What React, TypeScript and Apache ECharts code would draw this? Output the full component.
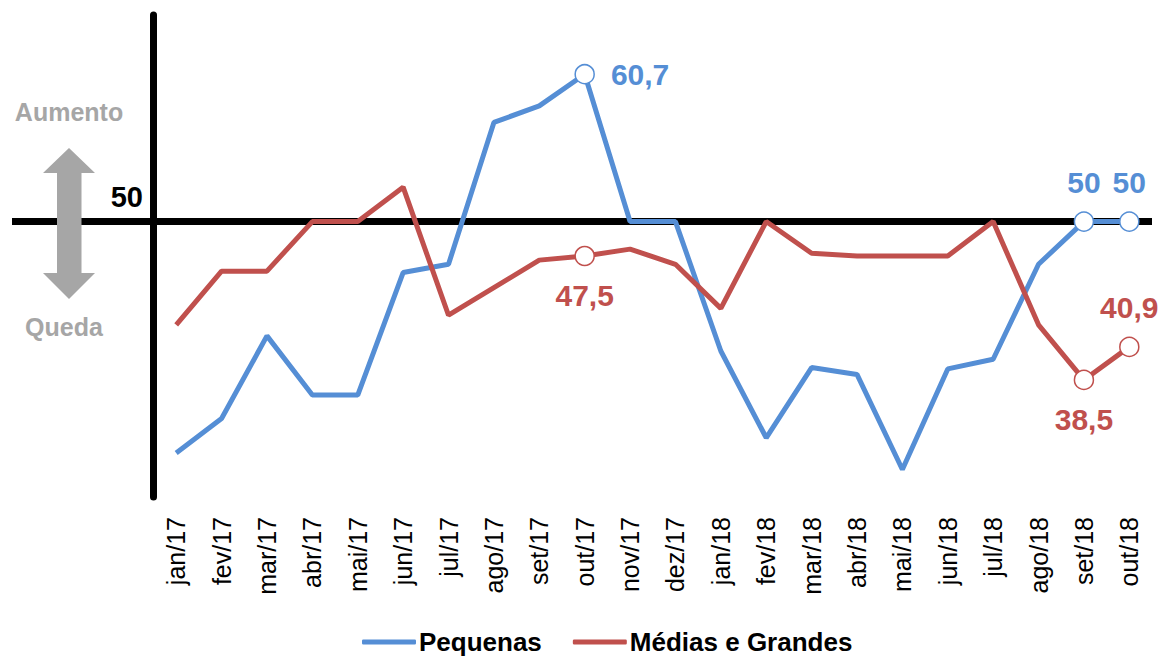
import React, { useEffect, useRef } from "react";
import * as echarts from "echarts";

const categories = [
  "jan/17", "fev/17", "mar/17", "abr/17", "mai/17", "jun/17", "jul/17", "ago/17",
  "set/17", "out/17", "nov/17", "dez/17", "jan/18", "fev/18", "mar/18", "abr/18",
  "mai/18", "jun/18", "jul/18", "ago/18", "set/18", "out/18",
];
const pequenas = [
  33.2, 35.7, 41.7, 37.4, 37.4, 46.3, 46.9, 57.2, 58.4, 60.7, 50, 50,
  40.6, 34.3, 39.4, 38.9, 32.0, 39.3, 40.0, 46.9, 50, 50,
];
const mediasGrandes = [
  42.5, 46.4, 46.4, 50, 50, 52.5, 43.2, 45.2, 47.2, 47.5, 48.0, 46.9,
  43.7, 50, 47.7, 47.5, 47.5, 47.5, 50, 42.5, 38.5, 40.9,
];
const seriesNames = ["Pequenas", "Médias e Grandes"];
const pequenasLabels: Record<number, string> = { 9: "right", 20: "top", 21: "top" };
const mediasLabels: Record<number, string> = { 9: "bottom", 20: "bottom", 21: "top" };
const referenceLevel = 50;

const BLUE = "#558ED5";
const RED = "#C0504D";
const GRAY = "#A6A6A6";
const FONT = "'Liberation Sans', Arial, sans-serif";

const fmt = (v: number) => String(v).replace(".", ",");

function buildData(values: number[], labels: Record<number, string>, color: string) {
  return values.map((v, i) => {
    const pos = labels[i];
    if (!pos) return v;
    return {
      value: v,
      symbol: "circle",
      symbolSize: 19,
      itemStyle: { color: "#fff", borderColor: color, borderWidth: 1.5 },
      label: {
        show: true,
        position: pos,
        distance: pos === "right" ? 16 : 14,
        formatter: (p: any) => fmt(p.value),
        color,
        fontSize: 30,
        fontWeight: "bold",
        fontFamily: FONT,
      },
    };
  });
}

export default function App() {
  const ref = useRef<HTMLDivElement>(null);
  useEffect(() => {
    if (!ref.current) return;
    const chart = echarts.init(ref.current, null, { renderer: "svg" });
    chart.setOption({
      animation: false,
      grid: { left: 153.5, right: 9, top: 15, bottom: 160 },
      legend: {
        left: 357,
        top: 624,
        icon: "roundRect",
        itemWidth: 54,
        itemHeight: 5,
        itemGap: 31,
        textStyle: { fontSize: 26, fontWeight: "bold", color: "#000", fontFamily: FONT, padding: [0, 0, 0, -2] },
        data: seriesNames,
      },
      xAxis: {
        type: "category",
        data: categories,
        boundaryGap: true,
        axisLine: { show: false },
        axisTick: { show: false },
        axisLabel: {
          rotate: 90,
          margin: 20,
          fontSize: 25,
          color: "#000",
          fontFamily: FONT,
          interval: 0,
        },
      },
      yAxis: {
        type: "value",
        min: 30,
        max: 65,
        axisLine: { show: true, lineStyle: { color: "#000", width: 7 } },
        axisTick: { show: false },
        axisLabel: { show: false },
        splitLine: { show: false },
      },
      series: [
        {
          name: seriesNames[0],
          type: "line",
          symbol: "none",
          lineStyle: { color: BLUE, width: 5 },
          itemStyle: { color: BLUE },
          data: buildData(pequenas, pequenasLabels, BLUE),
          z: 3,
        },
        {
          name: seriesNames[1],
          type: "line",
          symbol: "none",
          lineStyle: { color: RED, width: 5 },
          itemStyle: { color: RED },
          data: buildData(mediasGrandes, mediasLabels, RED),
          z: 4,
        },
      ],
    });
    const y50 = chart.convertToPixel({ yAxisIndex: 0 }, referenceLevel) as number;
    const xEnd = chart.convertToPixel({ xAxisIndex: 0 }, categories[categories.length - 1]) as number;
    const gridRight = xEnd + (xEnd - (chart.convertToPixel({ xAxisIndex: 0 }, categories[categories.length - 2]) as number)) / 2;
    chart.setOption({
      graphic: [
        {
          type: "line",
          z: 1,
          shape: { x1: 12, y1: y50, x2: gridRight, y2: y50 },
          style: { stroke: "#000", lineWidth: 7 },
        },
        {
          type: "text",
          z: 5,
          style: {
            text: String(referenceLevel),
            x: 143,
            y: y50 - 10,
            align: "right",
            verticalAlign: "bottom",
            fontSize: 29,
            fontWeight: "bold",
            fill: "#000",
            fontFamily: FONT,
          },
        },
        {
          type: "polygon",
          z: 1,
          shape: {
            points: [
              [69, 148], [95, 173], [81.5, 173], [81.5, 273], [95, 273], [69, 299],
              [43, 273], [57, 273], [57, 173], [43, 173],
            ],
          },
          style: { fill: GRAY },
        },
        {
          type: "text",
          z: 5,
          style: {
            text: "Aumento",
            x: 69,
            y: 112,
            align: "center",
            verticalAlign: "middle",
            fontSize: 25,
            fontWeight: "bold",
            fill: GRAY,
            fontFamily: FONT,
          },
        },
        {
          type: "text",
          z: 5,
          style: {
            text: "Queda",
            x: 64,
            y: 327,
            align: "center",
            verticalAlign: "middle",
            fontSize: 25,
            fontWeight: "bold",
            fill: GRAY,
            fontFamily: FONT,
          },
        },
      ],
    });
    return () => chart.dispose();
  }, []);
  return <div ref={ref} style={{ width: 1161, height: 657, position: "absolute", left: 0, top: 0 }} />;
}
